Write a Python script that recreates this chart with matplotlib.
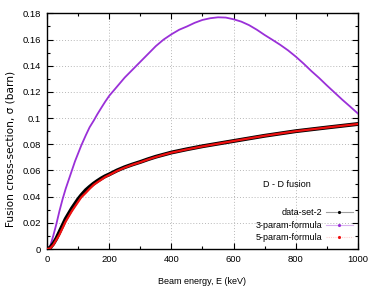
import matplotlib
matplotlib.use("Agg")
import matplotlib.pyplot as plt
from matplotlib import font_manager as fm
from matplotlib.lines import Line2D
from matplotlib.ticker import MultipleLocator

names = {f.name for f in fm.fontManager.ttflist}
NARROW = "Liberation Sans Narrow" in names
FONT = "Liberation Sans Narrow" if NARROW else "Liberation Sans"
plt.rcParams['font.family'] = [FONT, 'DejaVu Sans']
FS = 7.3 if NARROW else 6.5

# ---- data ----
energy_data = [0, 10, 20, 30, 40, 50, 60, 70, 80, 90, 100, 110, 125, 137, 150, 162,
               175, 187, 200, 225, 250, 275, 300, 325, 350, 375, 400, 450, 500, 600,
               700, 800, 900, 1000]
sigma_data = [0, 0.001, 0.004, 0.008, 0.013, 0.018, 0.023, 0.027, 0.031, 0.0345,
              0.038, 0.041, 0.045, 0.0475, 0.050, 0.052, 0.054, 0.0556, 0.057, 0.060,
              0.0625, 0.0646, 0.0665, 0.0686, 0.0705, 0.0721, 0.0737, 0.0762, 0.0785,
              0.0825, 0.0865, 0.0900, 0.0928, 0.0955]

energy_3p = [0, 10, 20, 30, 40, 50, 60, 70, 80, 90, 100, 110, 125, 137, 150, 162, 175,
             187, 200, 225, 250, 275, 300, 325, 350, 375, 400, 425, 450, 475, 500, 525,
             550, 575, 600, 625, 650, 675, 700, 725, 750, 775, 800, 825, 850, 875, 900,
             925, 950, 975, 1000]
sigma_3p = [0, 0.002, 0.010, 0.019, 0.029, 0.038, 0.046, 0.053, 0.060, 0.067, 0.073,
            0.079, 0.087, 0.093, 0.098, 0.103, 0.108, 0.1125, 0.117, 0.124, 0.131,
            0.137, 0.143, 0.149, 0.155, 0.160, 0.164, 0.1675, 0.170, 0.1728, 0.175,
            0.1763, 0.177, 0.1768, 0.1755, 0.1737, 0.171, 0.1675, 0.1635, 0.1598,
            0.156, 0.1518, 0.147, 0.1417, 0.136, 0.1307, 0.125, 0.1195, 0.114, 0.1088,
            0.1035]

energy_5p = [0, 10, 20, 30, 40, 50, 60, 70, 80, 90, 100, 110, 125, 137, 150, 162,
             175, 187, 200, 225, 250, 275, 300, 325, 350, 375, 400, 450, 500, 600,
             700, 800, 900, 1000]
sigma_5p = [0, 0.0005, 0.003, 0.007, 0.011, 0.016, 0.021, 0.025, 0.029, 0.0325,
            0.036, 0.0395, 0.043, 0.046, 0.049, 0.051, 0.053, 0.055, 0.0565, 0.0596,
            0.0622, 0.0644, 0.0663, 0.0684, 0.0703, 0.0720, 0.0736, 0.0761, 0.0784,
            0.0825, 0.0865, 0.0900, 0.0928, 0.0955]

labels = ["data-set-2", "3-param-formula", "5-param-formula"]
annotation = "D - D fusion"
yticks = [0, 0.02, 0.04, 0.06, 0.08, 0.1, 0.12, 0.14, 0.16, 0.18]
ytick_labels = ["0", "0.02", "0.04", "0.06", "0.08", "0.1", "0.12", "0.14", "0.16", "0.18"]

PURPLE = "#9a30d8"
RED = "#f01010"

fig = plt.figure(figsize=(3.74, 2.91), dpi=100)
ax = fig.add_axes([0.1257, 0.1443, 0.957 - 0.1257, 0.954 - 0.1443])

ax.plot(energy_3p, sigma_3p, color=PURPLE, lw=1.3, zorder=3)
ax.plot(energy_data, sigma_data, color="black", lw=2.8, zorder=4)
ax.plot(energy_5p, sigma_5p, color=RED, lw=1.6, zorder=5)

ax.set_xlim(0, 1000)
ax.set_ylim(0, 0.18)
ax.xaxis.set_major_locator(MultipleLocator(200))
ax.xaxis.set_minor_locator(MultipleLocator(100))
ax.set_yticks(yticks)
ax.set_yticklabels(ytick_labels)
ax.yaxis.set_minor_locator(MultipleLocator(0.01))
ax.tick_params(which="both", direction="in", top=True, right=True, labelsize=FS + 0.3,
               width=0.8, colors="black")
ax.tick_params(which="major", length=4.5, pad=4.5)
ax.tick_params(which="minor", length=2.5)
for s in ax.spines.values():
    s.set_linewidth(1.0)
ax.grid(True, which="major", color="#b8b8b8", lw=0.7, ls=(0, (1, 2)))

ax.set_xlabel("Beam energy, E (keV)", fontsize=FS)
ax.xaxis.set_label_coords(0.5, -(281.5 - 249 - 4) / 236)
ax.set_ylabel("Fusion cross-section, σ (barn)", fontsize=7.6, family=["DejaVu Sans"])
ax.yaxis.set_label_coords(-(47 - 15.5) / 311, (249 - 149) / 236)

ax.text(0.772, 0.275, annotation, transform=ax.transAxes, fontsize=FS, ha="center", va="center")

handles = [
    Line2D([], [], color="#a0a0a0", lw=0.8, marker=".", ms=2.5, mfc="black", mec="black"),
    Line2D([], [], color="#d8b0f0", lw=0.8, marker=".", ms=2.5, mfc=PURPLE, mec=PURPLE),
    Line2D([], [], color="#ffd0d0", lw=0.8, ls=(0, (1, 1)), marker=".", ms=2.5, mfc=RED, mec=RED),
]
leg = ax.legend(handles, labels, loc="lower right", bbox_to_anchor=(1.0, 0.005),
                frameon=False, markerfirst=False, fontsize=FS, handlelength=2.9,
                handletextpad=0.4, labelspacing=0.4, borderaxespad=0.2)

fig.savefig("out.png", dpi=100)
